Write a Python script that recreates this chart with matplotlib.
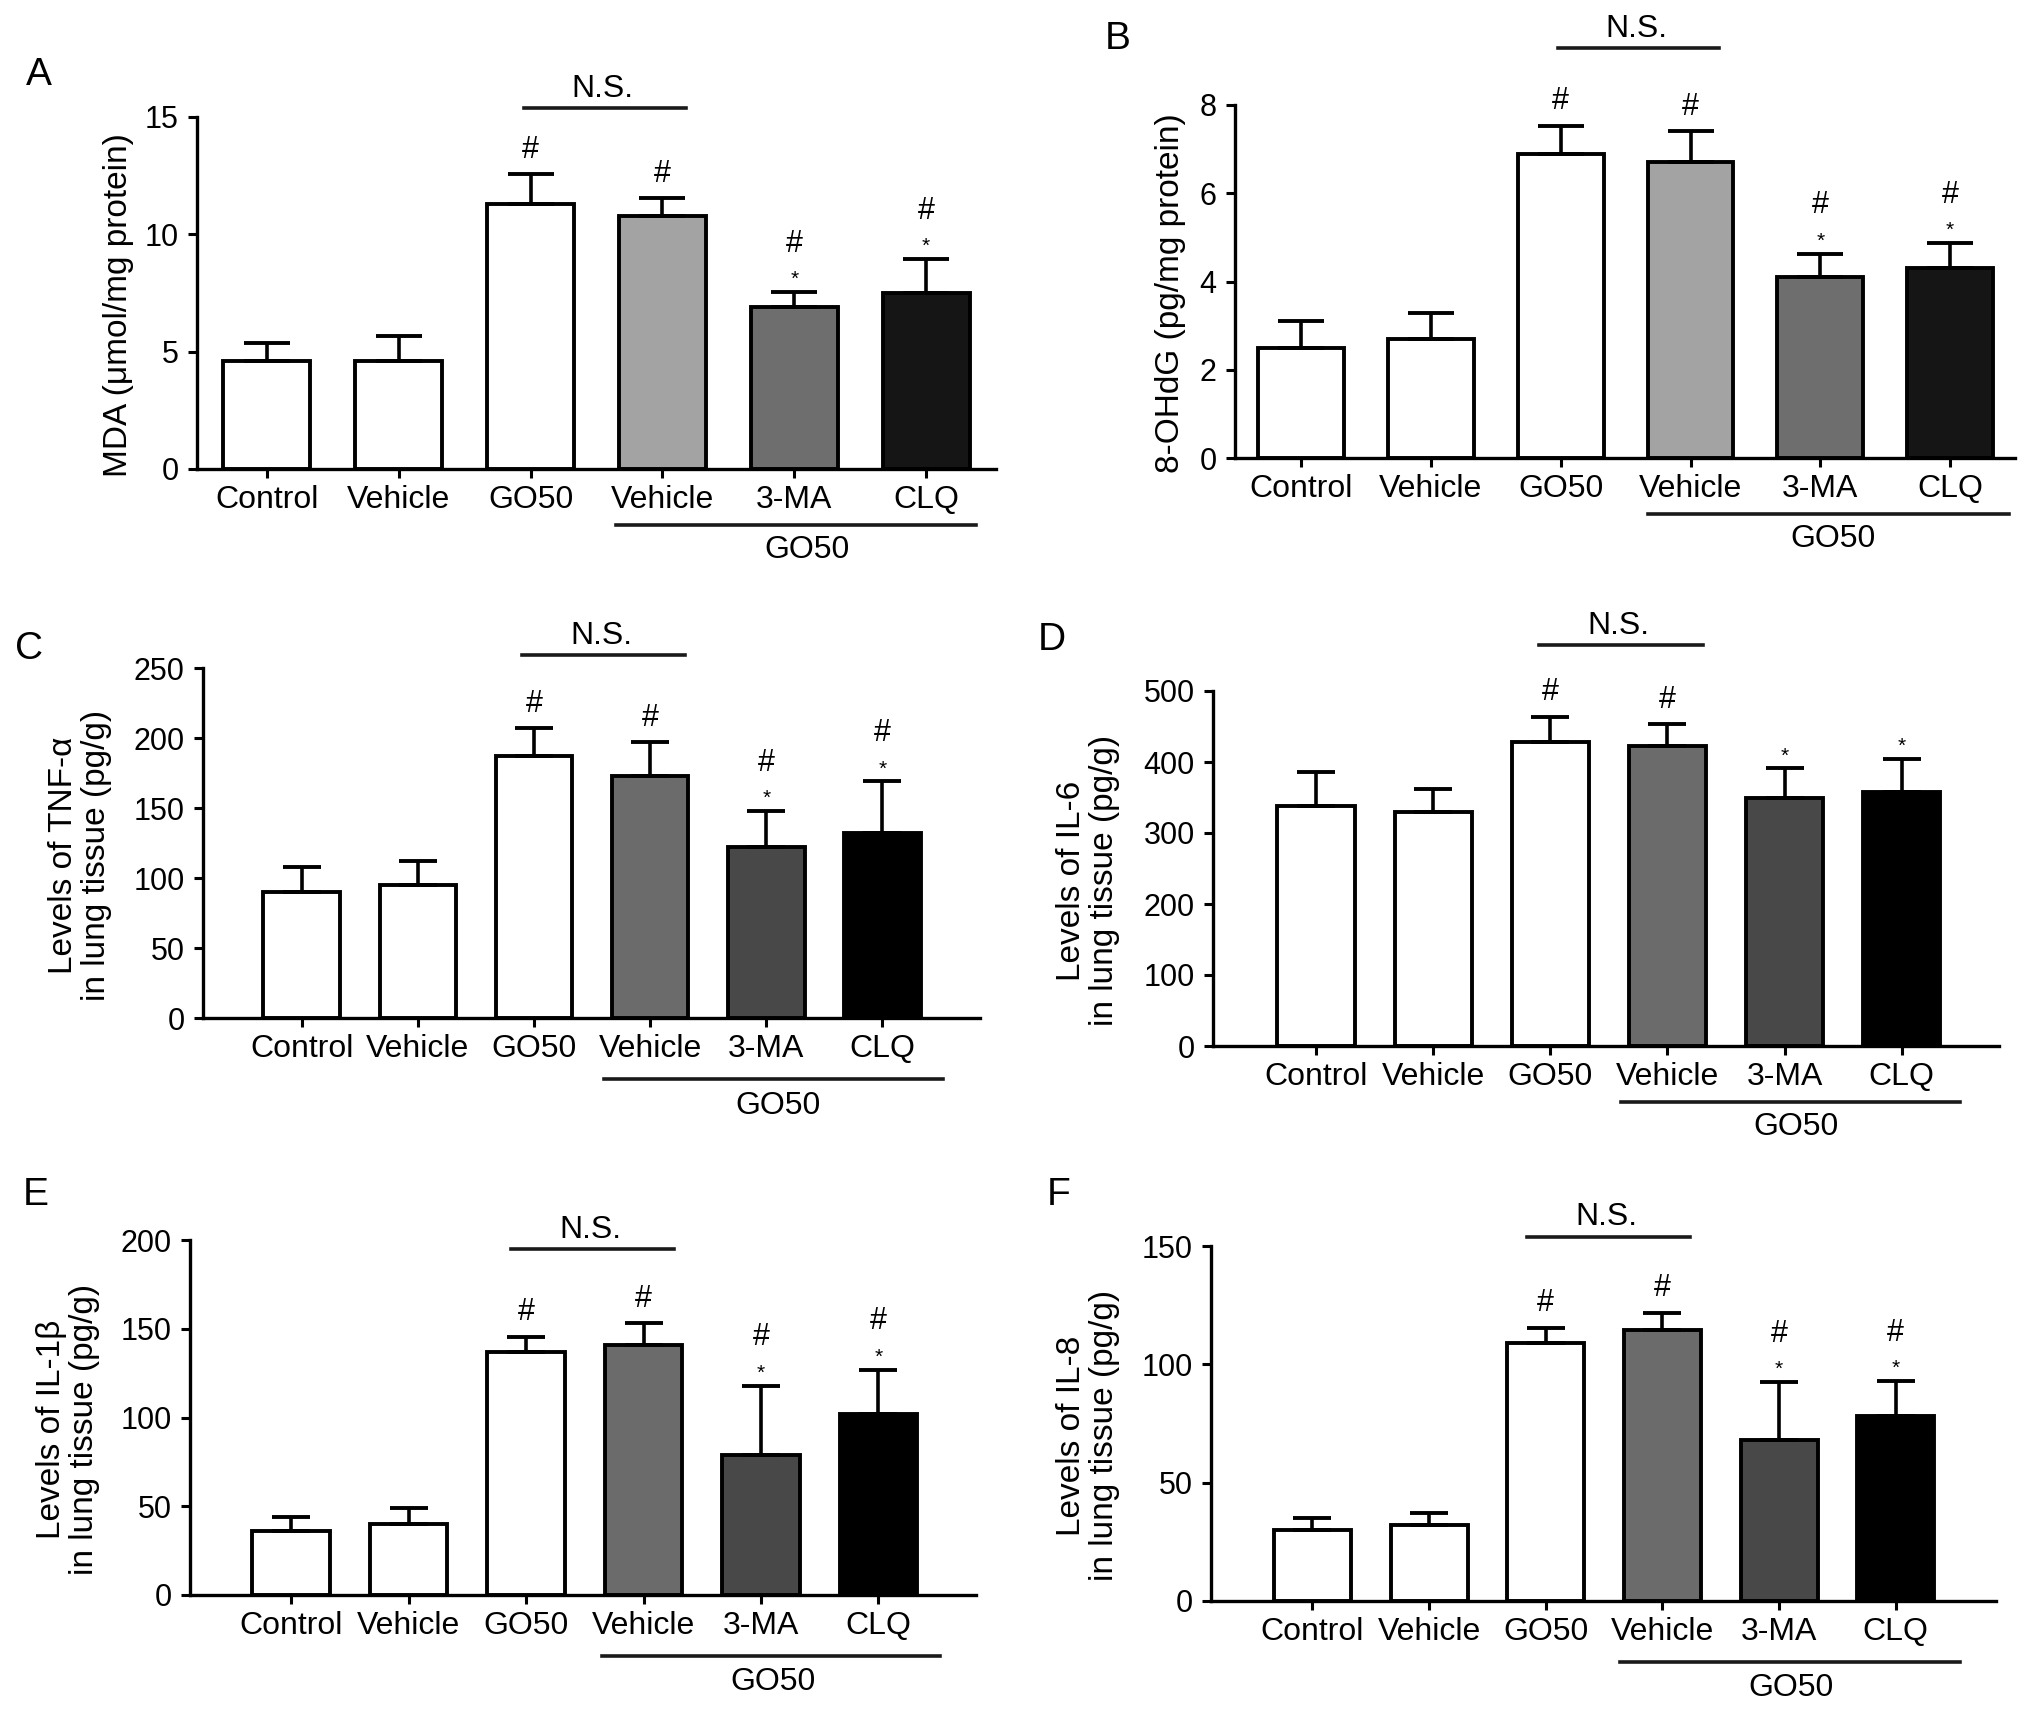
import matplotlib
matplotlib.use("Agg")
import matplotlib.pyplot as plt
from matplotlib.lines import Line2D
from matplotlib.transforms import offset_copy

plt.rcParams["font.family"] = ["Liberation Sans", "DejaVu Sans"]

# ---- data ----
groups = ["Control", "Vehicle", "GO50", "Vehicle", "3-MA", "CLQ"]
group_label = "GO50"

mda_mean = [4.6, 4.6, 11.3, 10.8, 6.9, 7.5]
mda_err = [0.75, 1.05, 1.25, 0.75, 0.65, 1.45]
ohdg_mean = [2.5, 2.7, 6.9, 6.7, 4.1, 4.3]
ohdg_err = [0.6, 0.58, 0.63, 0.7, 0.53, 0.57]
tnf_mean = [90, 95, 187, 173, 122, 132]
tnf_err = [18, 17, 20, 24, 26, 37]
il6_mean = [338, 329, 428, 422, 350, 358]
il6_err = [48, 33, 36, 31, 41, 46]
il1b_mean = [36, 40, 137, 141, 79, 102]
il1b_err = [8, 9, 8.5, 12, 39, 25]
il8_mean = [30, 32, 109, 114.5, 68, 78]
il8_err = [5.2, 5, 6.5, 7.3, 24.5, 15]

marks_std = ["", "", "#", "#", "#*", "#*"]
marks_il6 = ["", "", "#", "#", "*", "*"]

colors_ab = ["white", "white", "white", "#a3a3a3", "#6e6e6e", "#151515"]
colors_cf = ["white", "white", "white", "#6b6b6b", "#484848", "#000000"]

W, H = 2032, 1709
fig = plt.figure(figsize=(W / 100, H / 100), dpi=100)

# letter, ylabel, mean, err, marks, colors, ymax, ystep, NS-line y,
# axes box in px (left, right, y0, ytop), xlim, letter pos px, ylabel x px, capsize,
# N.S. line x range, group line x range, group line / text offsets (pt)
panels = [
    ("A", "MDA (\u03bcmol/mg protein)", mda_mean, mda_err, marks_std, colors_ab,
     15, 5, 15.4, (197, 996, 469, 117), (-0.53, 5.53), (39, 75), 118, 16.5,
     (1.95, 3.18), (2.65, 5.38), (-40, -58)),
    ("B", "8-OHdG (pg/mg protein)", ohdg_mean, ohdg_err, marks_std, colors_ab,
     8, 2, 9.3, (1235, 2015, 458, 105), (-0.51, 5.5), (1118, 39), 1170, 16.5,
     (1.98, 3.22), (2.67, 5.45), (-40, -58)),
    ("C", "Levels of TNF-\u03b1\nin lung tissue (pg/g)", tnf_mean, tnf_err, marks_std, colors_cf,
     250, 50, 259, (203, 980, 1018, 668), (-0.85, 5.84), (29, 649), 80, 13.5,
     (1.9, 3.3), (2.6, 5.52), (-44, -63)),
    ("D", "Levels of IL-6\nin lung tissue (pg/g)", il6_mean, il6_err, marks_il6, colors_cf,
     500, 100, 565, (1213, 1999, 1046, 691), (-0.88, 5.83), (1052, 640), 1088, 13.5,
     (1.9, 3.3), (2.6, 5.5), (-40, -58)),
    ("E", "Levels of IL-1\u03b2\nin lung tissue (pg/g)", il1b_mean, il1b_err, marks_std, colors_cf,
     200, 50, 195, (190, 976, 1595, 1240), (-0.86, 5.83), (36, 1195), 68, 13.5,
     (1.87, 3.26), (2.65, 5.52), (-44, -63)),
    ("F", "Levels of IL-8\nin lung tissue (pg/g)", il8_mean, il8_err, marks_std, colors_cf,
     150, 50, 154, (1211, 1996, 1601, 1246), (-0.87, 5.86), (1059, 1195), 1088, 13.5,
     (1.84, 3.24), (2.64, 5.55), (-44, -63)),
]

LW = 2.8
for (letter, ylab, mean, err, marks, cols, ymax, ystep, ns_y, box, xlim,
     lpos, ylx, capsize, ns_x, grp_x, grp_off) in panels:
    left, right, y0, ytop = box
    ax = fig.add_axes([left / W, 1 - y0 / H, (right - left) / W, (y0 - ytop) / H])
    x = list(range(len(groups)))
    ax.bar(x, mean, width=0.66, color=cols, edgecolor="black", linewidth=LW, zorder=2)
    ax.errorbar(x, mean, yerr=[[0] * len(err), err], fmt="none", ecolor="black",
                elinewidth=2.6, capsize=capsize, capthick=LW, zorder=3)
    ax.set_xlim(*xlim)
    ax.set_ylim(0, ymax)
    ax.set_yticks(range(0, ymax + 1, ystep))
    ax.set_xticks(x)
    ax.set_xticklabels(groups)
    for s in ("top", "right"):
        ax.spines[s].set_visible(False)
    for s in ("left", "bottom"):
        ax.spines[s].set_linewidth(2.4)
    ax.tick_params(axis="both", direction="out", length=6.7, width=2.2)
    ax.tick_params(axis="x", pad=5, labelsize=23)
    ax.tick_params(axis="y", pad=6.5, labelsize=22)

    # significance marks
    for i, m in enumerate(marks):
        top = mean[i] + err[i]
        if "*" in m:
            ax.annotate("*", (i, top), xytext=(0, 5), textcoords="offset points",
                        ha="center", va="baseline", fontsize=15, annotation_clip=False)
            if "#" in m:
                ax.annotate("#", (i, top), xytext=(0, 29), textcoords="offset points",
                            ha="center", va="baseline", fontsize=22, annotation_clip=False)
        elif "#" in m:
            ax.annotate("#", (i, top), xytext=(0, 11.7), textcoords="offset points",
                        ha="center", va="baseline", fontsize=22, annotation_clip=False)

    # N.S. bracket
    ax.add_line(Line2D(list(ns_x), [ns_y, ns_y], color="#1a1a1a", lw=2.6, clip_on=False))
    ax.annotate("N.S.", (sum(ns_x) / 2 - 0.02, ns_y), xytext=(0, 8), textcoords="offset points",
                ha="center", va="baseline", fontsize=23, annotation_clip=False)

    # GO50 group line under the last four bars
    tr = ax.get_xaxis_transform()
    ax.add_line(Line2D(list(grp_x), [0, 0], color="#1a1a1a", lw=2.6, clip_on=False,
                       transform=offset_copy(tr, fig=fig, y=grp_off[0], units="points")))
    ax.text(4.1, 0, group_label, ha="center", va="center", fontsize=23, clip_on=False,
            transform=offset_copy(tr, fig=fig, y=grp_off[1], units="points"))

    fig.text(ylx / W, 1 - ((y0 + ytop) / 2 + 12) / H, ylab, rotation=90, ha="center",
             va="center", fontsize=24, linespacing=1.12, multialignment="center")
    fig.text(lpos[0] / W, 1 - lpos[1] / H, letter, ha="center", va="center", fontsize=28)

fig.savefig("out.png", dpi=100, facecolor="white")
